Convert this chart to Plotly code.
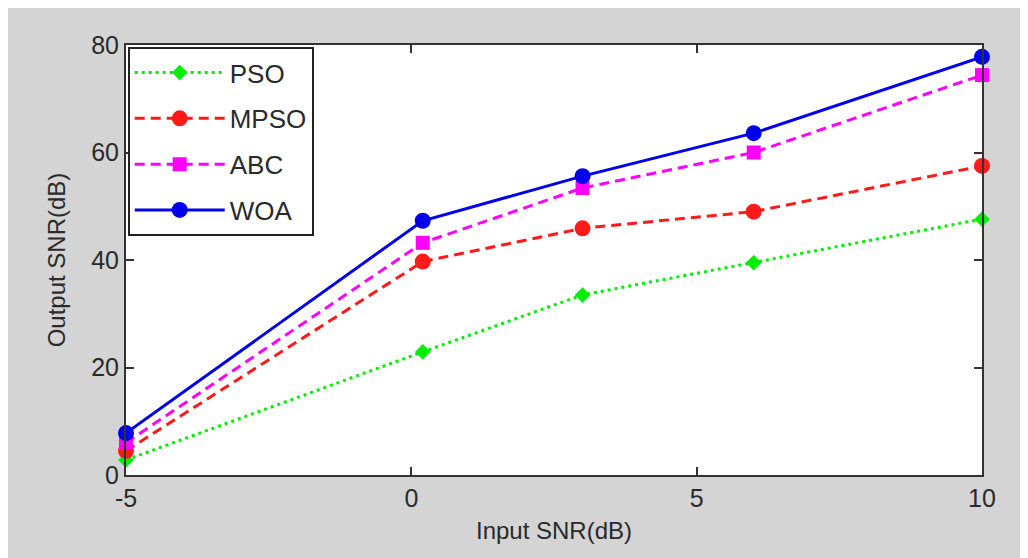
import plotly.graph_objects as go

input_snr = [-5, 0.2, 3, 6, 10]
pso = [2.8, 22.9, 33.5, 39.5, 47.6]
mpso = [4.5, 39.7, 45.9, 49.0, 57.5]
abc = [6.0, 43.2, 53.4, 60.0, 74.4]
woa = [7.8, 47.3, 55.6, 63.6, 77.8]

x_ticks = [-5, 0, 5, 10]
y_ticks = [0, 20, 40, 60, 80]

font_family = "Arial, Liberation Sans, sans-serif"

series = [
    ("PSO", pso, "#00ee00", "3px,4px", "diamond", 12),
    ("MPSO", mpso, "#ff1a1a", "10px,6px", "circle", 16),
    ("ABC", abc, "#ff00ff", "10px,6px", "square", 14),
    ("WOA", woa, "#0000ee", "solid", "circle", 16),
]

fig = go.Figure()
for i, (name, ys, color, dash, sym, ms) in enumerate(series):
    fig.add_trace(go.Scatter(
        x=input_snr, y=ys, name=name, mode="lines+markers",
        line=dict(color=color, width=3, dash=dash),
        marker=dict(symbol=sym, size=ms, color=color),
        legendgroup=f"g{i}", cliponaxis=False,
    ))

axis_common = dict(
    showgrid=False, zeroline=False, showline=True, linecolor="#333333",
    linewidth=2, mirror="ticks", ticks="inside", ticklen=8, tickwidth=1.5,
    tickcolor="#333333", tickfont=dict(family=font_family, size=25, color="#2a2a2a"),
)

fig.update_layout(
    width=1028, height=558,
    margin=dict(l=118, r=54, t=37, b=91),
    paper_bgcolor="#d4d4d4", plot_bgcolor="white",
    xaxis=dict(range=[-5, 10], tickvals=x_ticks, ticktext=[str(v) for v in x_ticks],
               title=dict(text="Input SNR(dB)", font=dict(family=font_family, size=24, color="#2a2a2a"), standoff=11),
               **axis_common),
    yaxis=dict(range=[0, 80], tickvals=y_ticks, ticktext=[str(v) for v in y_ticks],
               title=dict(text="Output SNR(dB)", font=dict(family=font_family, size=24, color="#2a2a2a"), standoff=19),
               **axis_common),
    legend=dict(x=0.002, y=0.995, xanchor="left", yanchor="top", bgcolor="white",
                bordercolor="#222222", borderwidth=2, traceorder="grouped",
                tracegroupgap=9, itemwidth=90,
                font=dict(family=font_family, size=26, color="#2a2a2a")),
    showlegend=True,
)

fig.write_html("out.html")
